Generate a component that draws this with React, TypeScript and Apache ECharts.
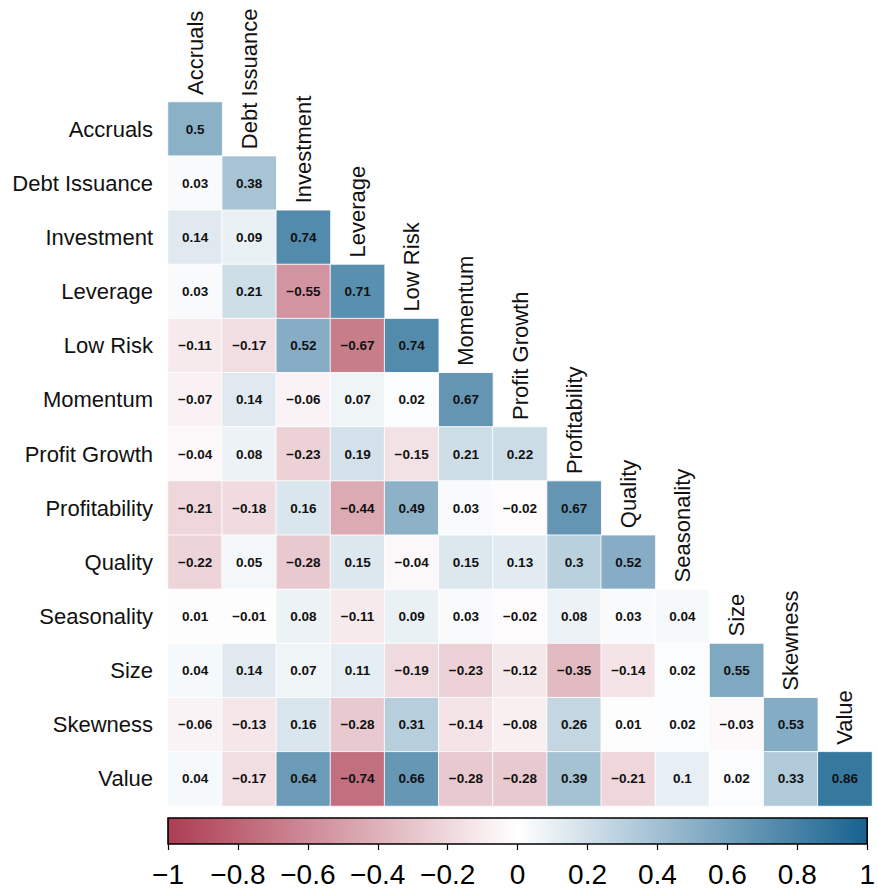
import React, { useEffect, useRef } from "react";
import * as echarts from "echarts";

const factors = [
  "Accruals",
  "Debt Issuance",
  "Investment",
  "Leverage",
  "Low Risk",
  "Momentum",
  "Profit Growth",
  "Profitability",
  "Quality",
  "Seasonality",
  "Size",
  "Skewness",
  "Value",
];

// Lower-triangular correlation rows (row i has i+1 values, columns 0..i)
const rowAccruals = [0.5];
const rowDebtIssuance = [0.03, 0.38];
const rowInvestment = [0.14, 0.09, 0.74];
const rowLeverage = [0.03, 0.21, -0.55, 0.71];
const rowLowRisk = [-0.11, -0.17, 0.52, -0.67, 0.74];
const rowMomentum = [-0.07, 0.14, -0.06, 0.07, 0.02, 0.67];
const rowProfitGrowth = [-0.04, 0.08, -0.23, 0.19, -0.15, 0.21, 0.22];
const rowProfitability = [-0.21, -0.18, 0.16, -0.44, 0.49, 0.03, -0.02, 0.67];
const rowQuality = [-0.22, 0.05, -0.28, 0.15, -0.04, 0.15, 0.13, 0.3, 0.52];
const rowSeasonality = [0.01, -0.01, 0.08, -0.11, 0.09, 0.03, -0.02, 0.08, 0.03, 0.04];
const rowSize = [0.04, 0.14, 0.07, 0.11, -0.19, -0.23, -0.12, -0.35, -0.14, 0.02, 0.55];
const rowSkewness = [-0.06, -0.13, 0.16, -0.28, 0.31, -0.14, -0.08, 0.26, 0.01, 0.02, -0.03, 0.53];
const rowValue = [0.04, -0.17, 0.64, -0.74, 0.66, -0.28, -0.28, 0.39, -0.21, 0.1, 0.02, 0.33, 0.86];

const rows = [
  rowAccruals,
  rowDebtIssuance,
  rowInvestment,
  rowLeverage,
  rowLowRisk,
  rowMomentum,
  rowProfitGrowth,
  rowProfitability,
  rowQuality,
  rowSeasonality,
  rowSize,
  rowSkewness,
  rowValue,
];

const colorbarTicks = [-1, -0.8, -0.6, -0.4, -0.2, 0, 0.2, 0.4, 0.6, 0.8, 1];

const RED = "#AD3D52";
const WHITE = "#FFFFFF";
const BLUE = "#17628F";
const FONT = "'Liberation Sans', Arial, Helvetica, sans-serif";

const fmt = (v: number) => {
  const s = String(+v.toFixed(2));
  return s.replace("-", "\u2212");
};

export default function App() {
  const ref = useRef<HTMLDivElement>(null);

  useEffect(() => {
    if (!ref.current) return;
    const chart = echarts.init(ref.current, undefined, { renderer: "svg" });

    const heatData: any[] = [];
    rows.forEach((r, i) => {
      r.forEach((v, j) => {
        heatData.push([factors[j], factors[i], v]);
      });
    });

    const option: any = {
      animation: false,
      backgroundColor: "#ffffff",
      textStyle: { fontFamily: FONT },
      grid: [
        { left: 168, top: 102, width: 704, height: 704 },
        { left: 168, top: 818, width: 704, height: 26 },
      ],
      xAxis: [
        {
          type: "category",
          data: factors,
          gridIndex: 0,
          show: false,
        },
        {
          type: "value",
          gridIndex: 1,
          min: -1,
          max: 1,
          interval: 0.2,
          position: "bottom",
          axisLine: { show: false },
          axisTick: { show: true, length: 6, lineStyle: { color: "#000", width: 1.2 } },
          splitLine: { show: false },
          axisLabel: {
            show: true,
            fontSize: 28,
            color: "#000",
            fontFamily: FONT,
            margin: 16,
            showMinLabel: true,
            showMaxLabel: true,
            formatter: (v: number) => fmt(v),
          },
        },
      ],
      yAxis: [
        {
          type: "category",
          data: factors,
          gridIndex: 0,
          inverse: true,
          axisLine: { show: false },
          axisTick: { show: false },
          splitLine: { show: false },
          axisLabel: {
            fontSize: 22,
            color: "#111",
            fontFamily: FONT,
            margin: 15,
          },
        },
        {
          type: "value",
          gridIndex: 1,
          min: 0,
          max: 1,
          show: false,
        },
      ],
      visualMap: {
        show: false,
        type: "continuous",
        min: -1,
        max: 1,
        dimension: 2,
        seriesIndex: 0,
        inRange: { color: [RED, WHITE, BLUE] },
      },
      series: [
        {
          type: "heatmap",
          xAxisIndex: 0,
          yAxisIndex: 0,
          data: heatData,
          itemStyle: { borderColor: "rgba(255,255,255,0.85)", borderWidth: 1 },
          label: {
            show: true,
            fontSize: 13.5,
            fontWeight: "bold",
            color: "#111",
            fontFamily: FONT,
            formatter: (p: any) => fmt(p.value[2]),
          },
          emphasis: { disabled: true },
        },
        {
          type: "custom",
          xAxisIndex: 0,
          yAxisIndex: 0,
          clip: false,
          silent: true,
          data: factors.map((f, i) => [i]),
          renderItem: (params: any, api: any) => {
            const i = api.value(0);
            const c = api.coord([factors[i], factors[i]]);
            const s = api.size([1, 1]);
            return {
              type: "text",
              x: c[0],
              y: c[1] - s[1] / 2 - 7,
              rotation: Math.PI / 2,
              style: {
                text: factors[i],
                fontSize: 22,
                fontFamily: FONT,
                fill: "#111",
                align: "left",
                verticalAlign: "middle",
              },
            };
          },
        },
        {
          type: "custom",
          xAxisIndex: 1,
          yAxisIndex: 1,
          clip: false,
          silent: true,
          data: [[colorbarTicks[0], colorbarTicks[colorbarTicks.length - 1]]],
          renderItem: (params: any, api: any) => {
            const p0 = api.coord([api.value(0), 1]);
            const p1 = api.coord([api.value(1), 0]);
            return {
              type: "rect",
              shape: { x: p0[0], y: p0[1], width: p1[0] - p0[0], height: p1[1] - p0[1] },
              style: {
                fill: new echarts.graphic.LinearGradient(0, 0, 1, 0, [
                  { offset: 0, color: RED },
                  { offset: 0.5, color: WHITE },
                  { offset: 1, color: BLUE },
                ]),
                stroke: "#000",
                lineWidth: 1.6,
              },
            };
          },
        },
      ],
    };

    chart.setOption(option);
    return () => chart.dispose();
  }, []);

  return (
    <div
      ref={ref}
      style={{ width: 878, height: 893, position: "absolute", left: 0, top: 0 }}
    />
  );
}
